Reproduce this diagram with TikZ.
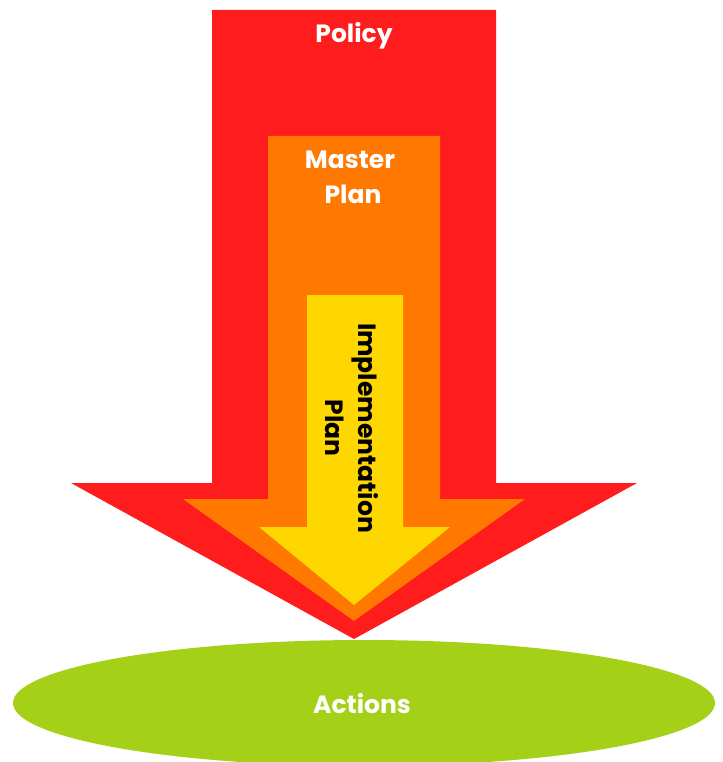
\documentclass[tikz,border=0pt]{standalone}
\usepackage{fontspec}
\setmainfont{Poppins}
\usetikzlibrary{positioning,shapes.geometric}

\definecolor{policyred}{HTML}{FF1C1C}
\definecolor{planorange}{HTML}{FF7800}
\definecolor{implyellow}{HTML}{FFD700}
\definecolor{actgreen}{HTML}{A4D017}

\begin{document}
\begin{tikzpicture}[x=1pt,y=-1pt]
        \tikzset{wlabel/.style= {text=white, font=\fontsize{25}{35}\selectfont\bfseries, align=center, inner sep=0pt},
        blabel/.style= {text=black, font=\fontsize{25}{33}\selectfont\bfseries, align=center, inner sep=0pt},
        base/.style={draw=none, shape=ellipse, fill=actgreen, minimum width=702pt, minimum height=126pt, inner sep=0pt},
        }
        \useasboundingbox (0,0) rectangle (722,762);

%%% arrows
        \fill[policyred] (212,10) -- (496,10) -- (496,483) -- (637,483) -- (354,639)
                    -- (71,483) -- (212,483) -- cycle;
        \fill[planorange] (268,136) -- (440,136) -- (440,499) -- (525,499) -- (354,621)
                    -- (183,499) -- (268,499) -- cycle;
        \fill[implyellow] (307,295) -- (403,295) -- (403,527) -- (450,527) -- (354,605)
                    -- (259,527) -- (307,527) -- cycle;

%%% labels
        \node [wlabel, anchor=base] (policy) at (354,43) {Policy};
        \node [wlabel, anchor=base] (master) at (350,168) {Master};
        \node [wlabel, anchor=base] (plan) at (353,203) {Plan};
        \node [blabel, rotate=-90] (impl) at (352,428) {Implementation\\Plan};

        \node [base] (actions) at (364,703) {};
        \node [wlabel, anchor=base] (actions_txt) at (362,713) {Actions};
    \end{tikzpicture}
\end{document}
